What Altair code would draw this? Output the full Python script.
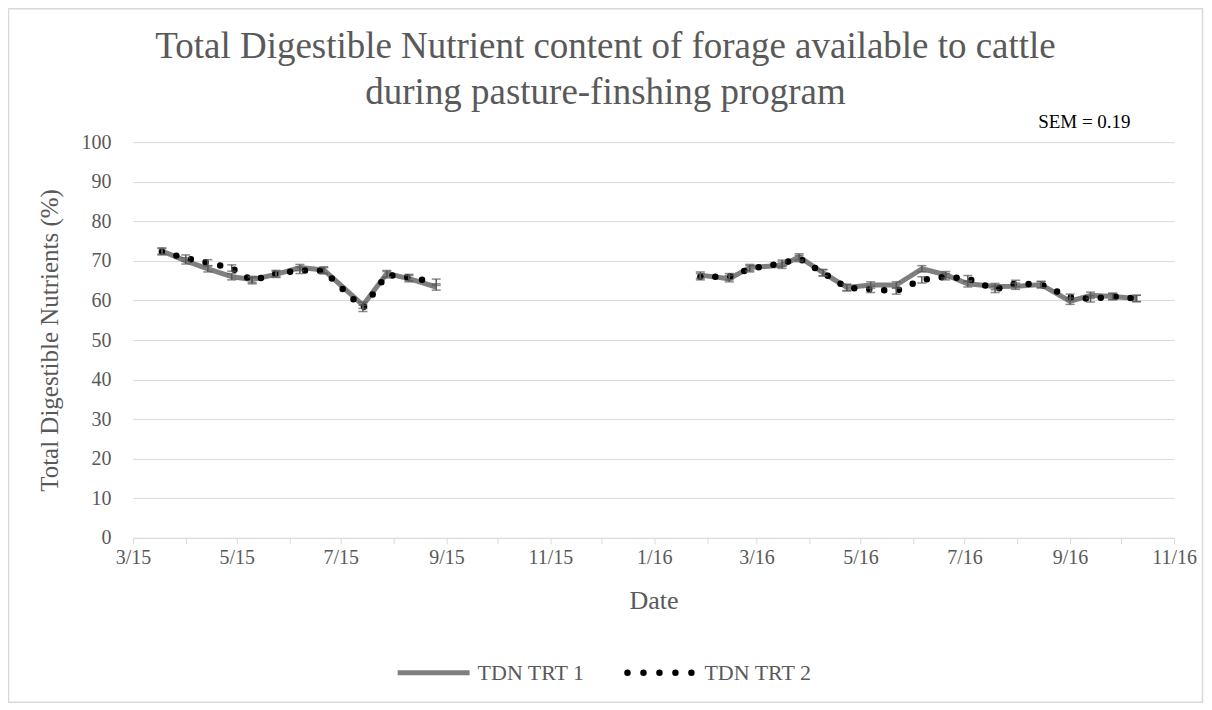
import altair as alt
import pandas as pd

# ---- data ----
DATES_2015 = ["2015-03-18", "2015-04-01", "2015-04-14", "2015-04-28", "2015-05-10", "2015-05-24",
              "2015-06-07", "2015-06-21", "2015-07-14", "2015-07-28", "2015-08-10", "2015-08-26"]
TRT1_2015 = [72.5, 70.0, 68.0, 66.0, 65.3, 66.6, 68.3, 67.7, 58.8, 66.8, 65.5, 63.4]
TRT2_2015 = [72.3, 70.7, 69.5, 68.2, 65.0, 66.8, 67.6, 67.5, 58.0, 66.5, 65.8, 64.6]

DATES_2016 = ["2016-01-28", "2016-02-14", "2016-02-26", "2016-03-16", "2016-03-26", "2016-04-09",
              "2016-04-23", "2016-05-07", "2016-05-22", "2016-06-06", "2016-06-20", "2016-07-03",
              "2016-07-19", "2016-07-31", "2016-08-15", "2016-09-01", "2016-09-13", "2016-09-26",
              "2016-10-10"]
TRT1_2016 = [66.4, 65.5, 68.3, 68.9, 71.0, 67.0, 63.3, 63.9, 63.9, 68.0, 66.5, 64.2,
             63.5, 63.6, 64.0, 59.8, 61.3, 61.0, 60.5]
TRT2_2016 = [66.0, 66.0, 68.0, 69.4, 70.6, 67.0, 63.2, 62.8, 62.4, 65.2, 66.0, 65.5,
             62.8, 64.3, 64.0, 60.8, 60.4, 61.0, 60.5]

ERR = 0.8  # visual half-height of the error bars

SERIES = ["TDN TRT 1", "TDN TRT 2"]
TITLE_LINES = ["Total Digestible Nutrient content of forage available to cattle",
               "during pasture-finshing program"]
SEM_TEXT = "SEM = 0.19"
X_TITLE = "Date"
Y_TITLE = "Total Digestible Nutrients (%)"
Y_TICKS = [0, 10, 20, 30, 40, 50, 60, 70, 80, 90, 100]
X_MONTHS = [(2015, m) for m in range(3, 13)] + [(2016, m) for m in range(1, 12)]

rows = []
for seg, dates, a, b in [("2015", DATES_2015, TRT1_2015, TRT2_2015),
                         ("2016", DATES_2016, TRT1_2016, TRT2_2016)]:
    for d, v1, v2 in zip(dates, a, b):
        rows.append({"date": d, "seg": seg, "series": SERIES[0], "tdn": v1})
        rows.append({"date": d, "seg": seg, "series": SERIES[1], "tdn": v2})
df = pd.DataFrame(rows)
df["lo"] = df["tdn"] - ERR
df["hi"] = df["tdn"] + ERR

FONT = "Liberation Serif, Times New Roman, serif"
TXT = "#595959"
GRID = "#d9d9d9"
W, H = 1042, 396

x_scale = alt.Scale(type="utc",
                    domain=[alt.DateTime(year=2015, month=3, date=1, utc=True),
                            alt.DateTime(year=2016, month=11, date=1, utc=True)])
x_axis = alt.Axis(
    title=X_TITLE,
    values=[alt.DateTime(year=y, month=m, date=1, utc=True) for y, m in X_MONTHS],
    labelExpr="utcmonth(datum.value) % 2 == 0 ? utcFormat(datum.value, '%-m/%y') : ''",
    grid=False, domainColor=GRID, tickColor=GRID, tickSize=6, labelPadding=4,
    labelFont=FONT, labelFontSize=20, labelColor=TXT, labelOverlap=False,
    labelFlush=False, labelAlign="center",
    titleFont=FONT, titleFontSize=26, titleColor=TXT, titleFontWeight="normal",
    titlePadding=20,
)
y_scale = alt.Scale(domain=[0, 100], nice=False)
y_axis = alt.Axis(
    title=Y_TITLE, values=Y_TICKS, tickCount=11, grid=True, gridColor=GRID, domain=False,
    ticks=False, labelOverlap=False, labelFlush=False,
    labelPadding=22, labelFont=FONT, labelFontSize=20, labelColor=TXT,
    titleFont=FONT, titleFontSize=25, titleColor=TXT, titleFontWeight="normal",
    titlePadding=18,
)

def X():
    return alt.X("date:T", scale=x_scale, axis=x_axis)

def Y(field):
    return alt.Y(field, scale=y_scale, axis=y_axis)

base = alt.Chart(df)

line1 = base.transform_filter(alt.datum.series == SERIES[0]).mark_line(
    color="#7f7f7f", strokeWidth=5, strokeJoin="round").encode(
    x=X(), y=Y("tdn:Q"), detail="seg:N")
line2 = base.transform_filter(alt.datum.series == SERIES[1]).mark_line(
    color="black", strokeWidth=6.5, strokeDash=[0, 15], strokeCap="round").encode(
    x=X(), y=Y("tdn:Q"), detail="seg:N")

err_rule = base.mark_rule(color="#595959", strokeWidth=1.5).encode(
    x=X(), y=Y("lo:Q"), y2="hi:Q")
cap_lo = base.mark_tick(color="#595959", orient="horizontal", size=9, thickness=1.5).encode(
    x=X(), y=Y("lo:Q"))
cap_hi = base.mark_tick(color="#595959", orient="horizontal", size=9, thickness=1.5).encode(
    x=X(), y=Y("hi:Q"))

def text_layer(txt, x, y, size, color=TXT, align="center"):
    return alt.Chart(pd.DataFrame({"t": [txt]})).mark_text(
        font=FONT, fontSize=size, color=color, align=align, baseline="middle").encode(
        text="t:N", x=alt.value(x), y=alt.value(y))

title1 = text_layer(TITLE_LINES[0], 473, -95, 37)
title2 = text_layer(TITLE_LINES[1], 473, -49, 37)
sem = text_layer(SEM_TEXT, 906, -20, 19, color="black", align="left")

leg1 = alt.Chart(pd.DataFrame({"t": [SERIES[0]]})).mark_rule(
    color="#7f7f7f", strokeWidth=5).encode(
    x=alt.value(265), x2=alt.value(337), y=alt.value(531))
leg2 = alt.Chart(pd.DataFrame({"t": [SERIES[1]]})).mark_rule(
    color="black", strokeWidth=6.5, strokeDash=[0, 16], strokeCap="round").encode(
    x=alt.value(495), x2=alt.value(562), y=alt.value(531))
legt1 = text_layer(SERIES[0], 345, 531, 22, align="left")
legt2 = text_layer(SERIES[1], 572, 531, 22, align="left")

border = alt.Chart(pd.DataFrame({"t": ["b"]})).mark_rect(
    fill=None, stroke=GRID, strokeWidth=1.5).encode(
    x=alt.value(-124.5), x2=alt.value(1070.5), y=alt.value(-133.5), y2=alt.value(560.5))

chart = alt.layer(
    line1, line2, err_rule, cap_lo, cap_hi,
    title1, title2, sem, leg1, leg2, legt1, legt2, border,
).properties(
    width=W, height=H,
    autosize=alt.AutoSizeParams(type="none"),
    padding={"left": 125, "top": 134, "right": 30, "bottom": 166},
).configure_view(stroke=None)

chart.save("out.html", embed_options={"renderer": "svg", "actions": False})
